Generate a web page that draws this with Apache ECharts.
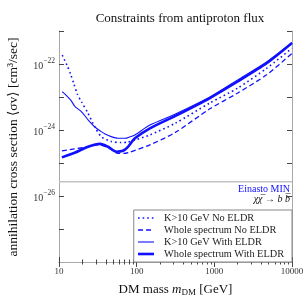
<!DOCTYPE html>
<html><head><meta charset="utf-8">
<script src="https://cdn.jsdelivr.net/npm/echarts@6/dist/echarts.min.js"></script>
<style>html,body{margin:0;padding:0;background:#fff}#c{width:306px;height:306px}#err{position:absolute;left:0;top:0;font:8px sans-serif;color:red;width:300px}</style>
</head><body><div id="c"></div><div id="err"></div>
<script>
// ---- data ----
var xTickLabels = ['10', '100', '1000', '10000'];
var yTickExponents = [-28, -26, -24, -22];
var seriesNames = ['K>10 GeV No ELDR', 'Whole spectrum No ELDR', 'K>10 GeV With ELDR', 'Whole spectrum With ELDR'];

var k10NoEldrMass = [11, 12.7, 14.1, 15.6, 17.2, 19.5, 23.6, 28.8, 35, 47, 63, 75, 100, 148, 311, 877, 2000, 4710, 10000];
var k10NoEldrSv   = [1.86e-22, 9.1e-23, 4.9e-23, 2.45e-23, 1.23e-23, 7.1e-24, 3.24e-24, 1.26e-24, 6.3e-25, 4.47e-25, 4.17e-25, 4.27e-25, 5.13e-25, 7.1e-25, 1.58e-24, 6.6e-24, 1.86e-23, 7.4e-23, 3.0e-22];

var wholeNoEldrMass = [10.9, 15.1, 23.6, 31.8, 42.8, 57.4, 68.7, 82, 148, 311, 877, 2000, 4710, 10000];
var wholeNoEldrSv   = [2.34e-25, 2.63e-25, 3.1e-25, 3.6e-25, 2.95e-25, 1.95e-25, 1.95e-25, 2.14e-25, 3.55e-25, 8.3e-25, 4.4e-24, 1.32e-23, 4.7e-23, 2.1e-22];

var k10EldrMass = [11, 12.4, 14.4, 16.1, 19.4, 23.8, 29, 35, 39.1, 47, 57.4, 70.7, 82, 95, 148, 311, 877, 2000, 4710, 10000];
var k10EldrSv   = [1.45e-23, 1.12e-23, 7.6e-24, 5.1e-24, 3.63e-24, 2.0e-24, 1.23e-24, 8.9e-25, 7.6e-25, 6.3e-25, 5.6e-25, 5.6e-25, 6.2e-25, 7.1e-25, 1.41e-24, 3.0e-24, 1.0e-23, 3.3e-23, 1.15e-22, 4.4e-22];

var wholeEldrMass = [10.9, 15.9, 23.6, 33.7, 42.8, 55, 66.7, 77.3, 95, 148, 311, 877, 2000, 4710, 10000];
var wholeEldrSv   = [1.48e-25, 2.04e-25, 3.1e-25, 3.8e-25, 3.1e-25, 2.2e-25, 2.34e-25, 3.1e-25, 5.6e-25, 1.12e-24, 2.63e-24, 9.3e-24, 2.95e-23, 1.05e-22, 4.3e-22];

var thermalMass = [10, 10000];
var thermalSv = [2.7e-26, 2.7e-26];

// ---- build ----
function pairs(a, b) { return a.map(function (v, i) { return [v, b[i]]; }); }
function minorVals(lo, hi) {
  var out = [];
  for (var e = lo; e < hi; e++) for (var k = 2; k <= 9; k++) out.push(k * Math.pow(10, e));
  return out;
}
var xMinor = minorVals(1, 4);
var yMinor = minorVals(-28, -21);
var serif = '"Liberation Serif","DejaVu Serif",serif';
var blue = '#1010ff';
var axisCol = '#a8a8a8';
var lineStyles = [
  { color: blue, width: 1.6, type: [1.6, 3] },
  { color: blue, width: 1.3, type: [5, 3] },
  { color: blue, width: 1.1, type: 'solid' },
  { color: blue, width: 2.6, type: 'solid' }
];

function xAx(pos, minor, labels, name) {
  var a = {
    type: 'log', logBase: 10, min: 10, max: 10000, position: pos,
    axisLine: { show: !minor, lineStyle: { color: axisCol, width: 1 } },
    axisTick: { show: true, inside: true, length: minor ? 2.5 : 5, lineStyle: { color: '#333', width: 0.9 } },
    axisLabel: { show: !!labels, fontFamily: serif, fontSize: 9, color: '#333', margin: 5,
      formatter: function (v) { var e = Math.round(Math.log10(v)); return xTickLabels[e - 1] || ''; } },
    splitLine: { show: false }
  };
  if (minor) a.axisTick.customValues = xMinor;
  if (name) {
    a.name = '{n|DM mass }{i|m}{s|DM}{n| [GeV]}';
    a.nameLocation = 'middle';
    a.nameGap = 20;
    a.nameTextStyle = { rich: {
      n: { fontFamily: serif, fontSize: 13, color: '#111' },
      i: { fontFamily: serif, fontSize: 13, fontStyle: 'italic', color: '#111' },
      s: { fontFamily: serif, fontSize: 9, color: '#111', padding: [6, 0, 0, 0] }
    } };
  }
  return a;
}
function yAx(pos, minor, labels) {
  var a = {
    type: 'log', logBase: 10, min: 1e-28, max: 1e-21, position: pos,
    axisLine: { show: !minor, lineStyle: { color: axisCol, width: 1 } },
    axisTick: { show: true, inside: true, length: minor ? 2.5 : 5, lineStyle: { color: '#333', width: 0.9 } },
    axisLabel: { show: !!labels, margin: 4,
      formatter: function (v) {
        var e = Math.round(Math.log10(v));
        if (yTickExponents.indexOf(e) < 0) return '';
        return '{b|10}{s|\u2212' + (-e) + '}';
      },
      rich: {
        b: { fontFamily: serif, fontSize: 10, color: '#333', padding: [5, 0, 0, 0] },
        s: { fontFamily: serif, fontSize: 7.5, color: '#333', padding: [0, 0, 5, 0] }
      } },
    splitLine: { show: false }
  };
  if (minor) a.axisTick.customValues = yMinor;
  return a;
}

try {
var chart = echarts.init(document.getElementById('c'), null, { renderer: 'canvas' });
chart.setOption({
  animation: false,
  backgroundColor: '#fff',
  title: { text: 'Constraints from antiproton flux', left: 175, top: 7, textAlign: 'center',
    textStyle: { fontFamily: serif, fontSize: 13, fontWeight: 'normal', color: '#111' } },
  grid: { left: 59, right: 14, top: 31, bottom: 44, containLabel: false, outerBoundsMode: 'none' },
  xAxis: [xAx('bottom', false, true, true), xAx('bottom', true), xAx('top', false), xAx('top', true)],
  yAxis: [yAx('left', false, true), yAx('left', true), yAx('right', false), yAx('right', true)],
  legend: {
    orient: 'vertical', right: 14, bottom: 44, backgroundColor: '#fff',
    borderColor: '#888', borderWidth: 1, borderRadius: 0, padding: [3, 8, 3, 3],
    itemGap: 2, itemWidth: 16, itemHeight: 9,
    itemStyle: { opacity: 0 },
    textStyle: { fontFamily: serif, fontSize: 10.3, color: '#222', padding: [0, 0, 0, 5] },
    data: seriesNames.map(function (n, i) { return { name: n, lineStyle: lineStyles[i] }; })
  },
  graphic: [
    { type: 'text', x: 13, y: 147, rotation: Math.PI / 2,
      style: { text: 'annihilation cross section \u27E8\u03C3v\u27E9 [cm\u00B3/sec]', font: '13.5px ' + serif, fill: '#111', align: 'center', verticalAlign: 'middle' } },
    { type: 'text', right: 16, top: 184, style: { text: 'Einasto MIN', font: '10px ' + serif, fill: blue } },
    { type: 'text', right: 16, top: 194, style: { text: '\u03C7\u03C7\u0305 \u2192 b b\u0305', font: 'italic 10px ' + serif, fill: '#111' } }
  ],
  series: [
    { name: 'thermal', type: 'line', symbol: 'none', silent: true, z: 1,
      data: pairs(thermalMass, thermalSv), lineStyle: { color: '#c4c4c4', width: 1.3 } },
    { name: seriesNames[0], type: 'line', showSymbol: false, symbol: 'none', smooth: 0.25, z: 3,
      data: pairs(k10NoEldrMass, k10NoEldrSv), lineStyle: lineStyles[0], itemStyle: { color: blue } },
    { name: seriesNames[1], type: 'line', showSymbol: false, symbol: 'none', smooth: 0.25, z: 3,
      data: pairs(wholeNoEldrMass, wholeNoEldrSv), lineStyle: lineStyles[1], itemStyle: { color: blue } },
    { name: seriesNames[2], type: 'line', showSymbol: false, symbol: 'none', smooth: 0.25, z: 3,
      data: pairs(k10EldrMass, k10EldrSv), lineStyle: lineStyles[2], itemStyle: { color: blue } },
    { name: seriesNames[3], type: 'line', showSymbol: false, symbol: 'none', smooth: 0.25, z: 4,
      data: pairs(wholeEldrMass, wholeEldrSv), lineStyle: lineStyles[3], itemStyle: { color: blue } }
  ]
});
} catch (err) { document.getElementById('err').textContent = String(err && err.stack || err); }
</script>
</body></html>
